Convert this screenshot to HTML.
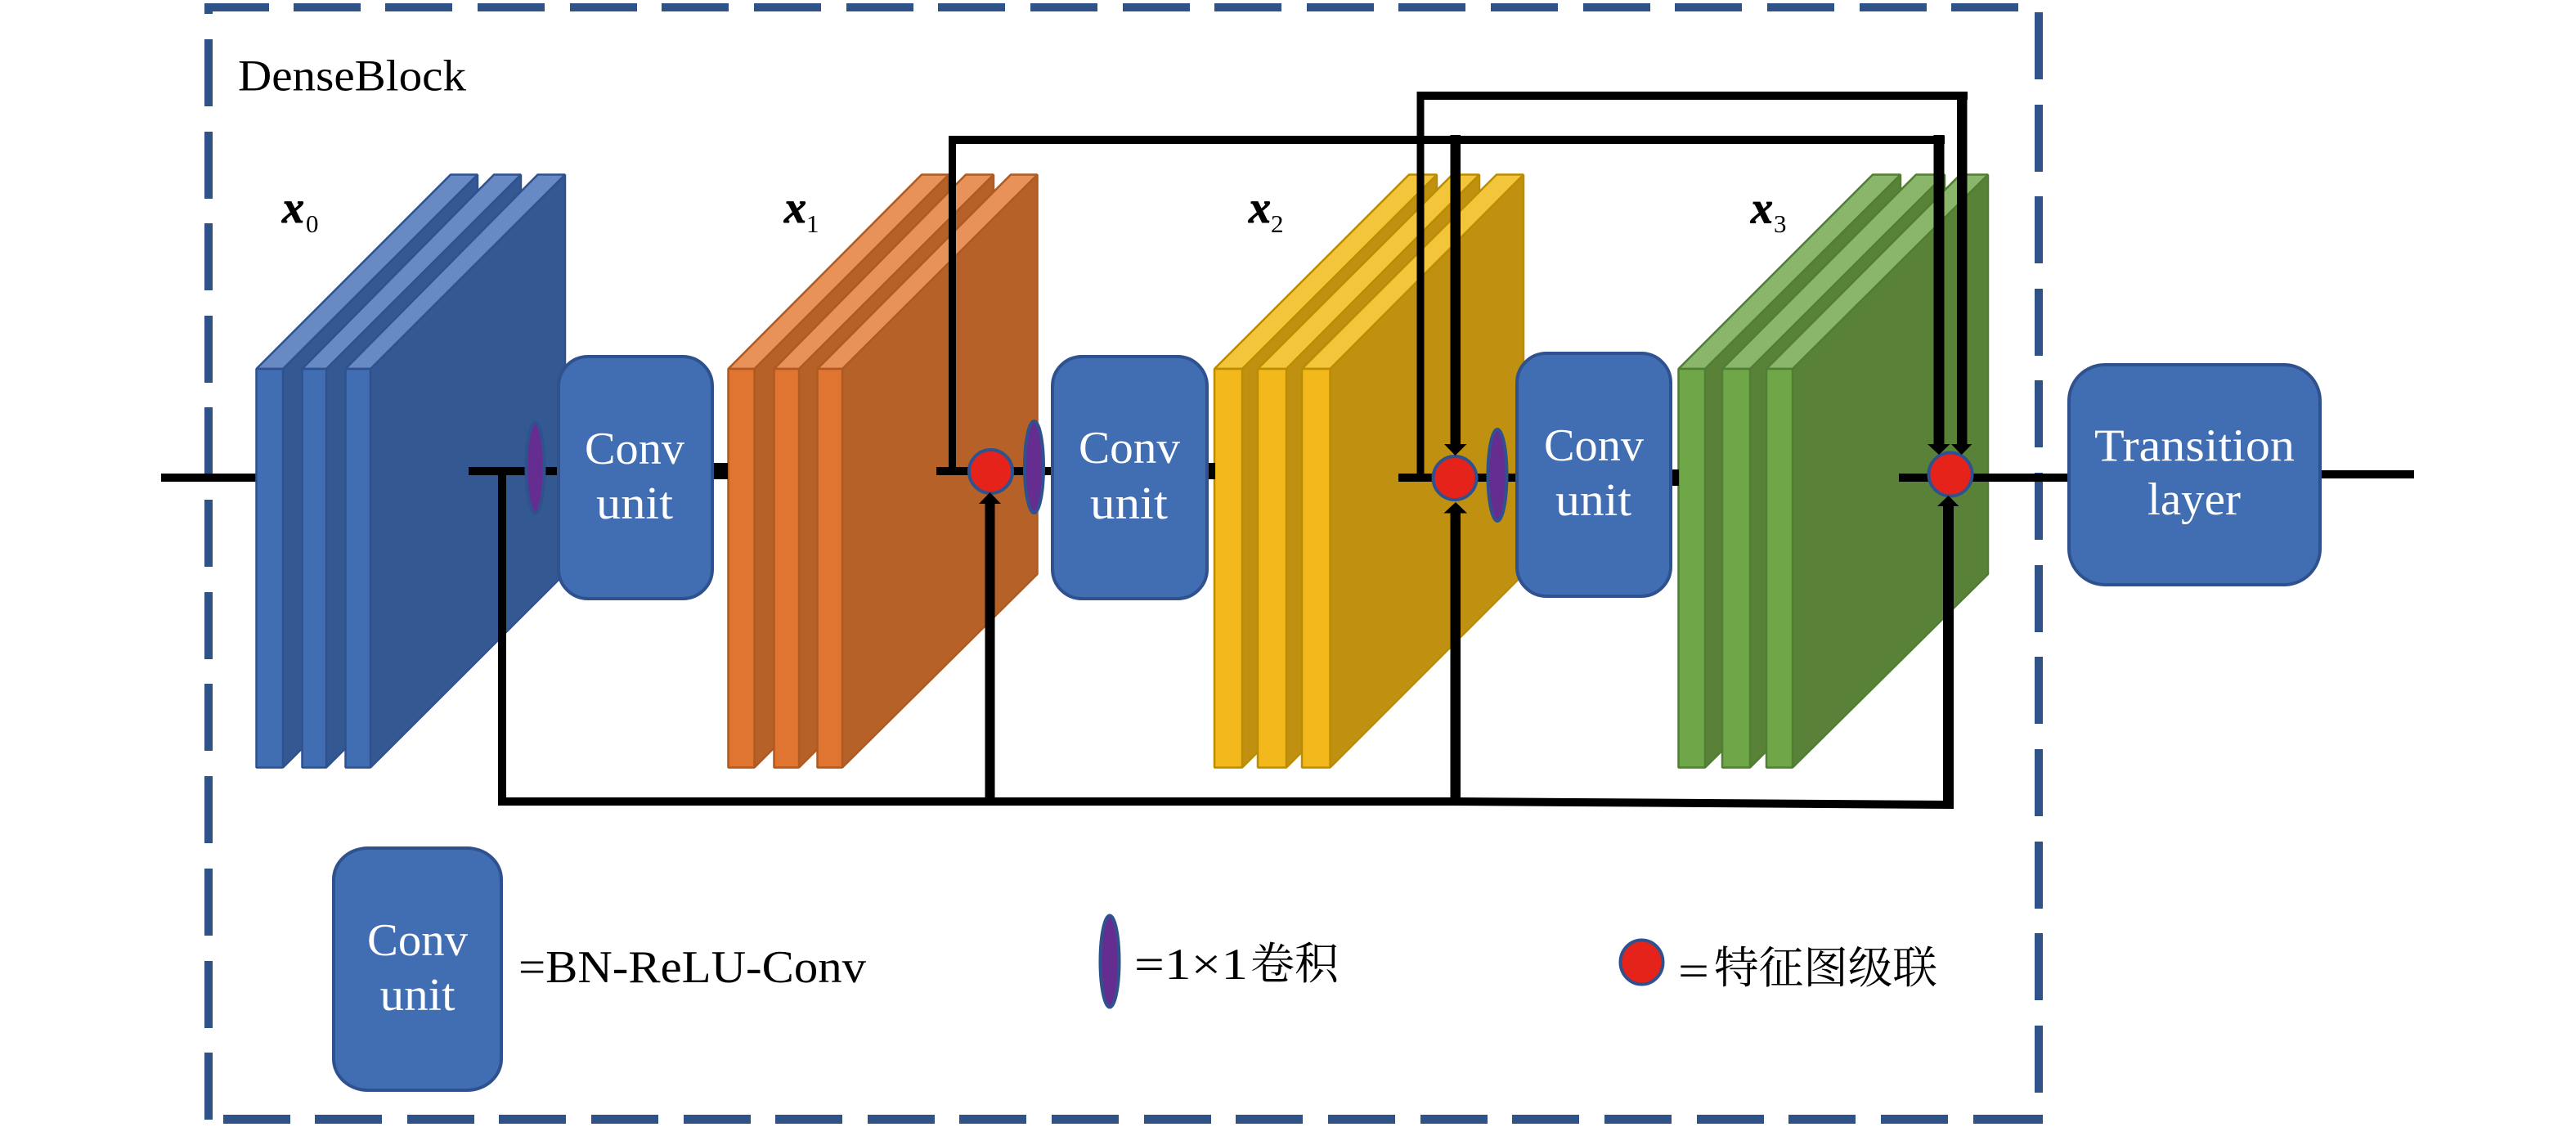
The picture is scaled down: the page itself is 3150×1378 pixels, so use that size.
<!DOCTYPE html>
<html lang="zh">
<head>
<meta charset="utf-8">
<title>DenseBlock</title>
<style>
html,body{margin:0;padding:0;background:#fff}
svg{display:block}
.ser{font-family:"Liberation Serif","Noto Serif CJK SC",serif}
.w{fill:#fff;font-size:56px}
.k{fill:#000;font-size:56px}
.mx{font-family:"Liberation Serif",serif;font-weight:bold;font-style:italic;font-size:55px;fill:#000;stroke:#000;stroke-width:1}
.sb{font-family:"Liberation Serif",serif;font-size:31px;fill:#000}
.dash{fill:#2F5289}
.unit{fill:#416DB2;stroke:#2F528F;stroke-width:4}
.pur{fill:#662D91;stroke:#2F528F;stroke-width:4}
.red{fill:#E5231B;stroke:#2F528F;stroke-width:4}
.bl polygon,.bl rect,.or polygon,.or rect,.ye polygon,.ye rect,.gr polygon,.gr rect{stroke-width:2.5;stroke-linejoin:bevel}
.bl *{stroke:#2F528F}.bl .f{fill:#416DB2}.bl .s{fill:#345892}.bl .t{fill:#678AC4}
.or *{stroke:#AE5A21}.or .f{fill:#E07532}.or .s{fill:#B56127}.or .t{fill:#E89158}
.ye *{stroke:#BC8C00}.ye .f{fill:#F3B81B}.ye .s{fill:#C09110}.ye .t{fill:#F3C53A}
.gr *{stroke:#507E32}.gr .f{fill:#6FA648}.gr .s{fill:#598238}.gr .t{fill:#8AB66C}
</style>
</head>
<body>
<svg xmlns="http://www.w3.org/2000/svg" width="3150" height="1378" viewBox="0 0 3150 1378">
<rect width="3150" height="1378" fill="#fff"/>

<!-- dashed frame: top -->
<g class="dash">
<rect x="250" y="4" width="79" height="10"/><rect x="250" y="4" width="10" height="13"/>
<rect x="359" y="4" width="82" height="10"/><rect x="471" y="4" width="82" height="10"/>
<rect x="584" y="4" width="82" height="10"/><rect x="697" y="4" width="82" height="10"/>
<rect x="809" y="4" width="82" height="10"/><rect x="922" y="4" width="82" height="10"/>
<rect x="1035" y="4" width="82" height="10"/><rect x="1147" y="4" width="82" height="10"/>
<rect x="1260" y="4" width="82" height="10"/><rect x="1373" y="4" width="82" height="10"/>
<rect x="1485" y="4" width="82" height="10"/><rect x="1598" y="4" width="82" height="10"/>
<rect x="1710" y="4" width="82" height="10"/><rect x="1823" y="4" width="82" height="10"/>
<rect x="1936" y="4" width="82" height="10"/><rect x="2048" y="4" width="82" height="10"/>
<rect x="2161" y="4" width="82" height="10"/><rect x="2274" y="4" width="82" height="10"/>
<rect x="2386" y="4" width="82" height="10"/>
<!-- left -->
<rect x="250" y="48" width="10" height="82"/><rect x="250" y="161" width="10" height="82"/>
<rect x="250" y="273" width="10" height="82"/><rect x="250" y="386" width="10" height="82"/>
<rect x="250" y="498" width="10" height="82"/><rect x="250" y="611" width="10" height="82"/>
<rect x="250" y="724" width="10" height="82"/><rect x="250" y="836" width="10" height="82"/>
<rect x="250" y="949" width="10" height="82"/><rect x="250" y="1062" width="10" height="82"/>
<rect x="250" y="1175" width="10" height="82"/><rect x="250" y="1287" width="10" height="82"/>
<!-- right -->
<rect x="2488" y="15" width="10" height="82"/><rect x="2488" y="128" width="10" height="82"/>
<rect x="2488" y="240" width="10" height="82"/><rect x="2488" y="353" width="10" height="82"/>
<rect x="2488" y="465" width="10" height="82"/><rect x="2488" y="578" width="10" height="82"/>
<rect x="2488" y="691" width="10" height="82"/><rect x="2488" y="803" width="10" height="82"/>
<rect x="2488" y="916" width="10" height="82"/><rect x="2488" y="1029" width="10" height="82"/>
<rect x="2488" y="1141" width="10" height="82"/><rect x="2488" y="1254" width="10" height="82"/>
<!-- bottom -->
<rect x="273" y="1363" width="82" height="11"/><rect x="385" y="1363" width="82" height="11"/>
<rect x="498" y="1363" width="82" height="11"/><rect x="610" y="1363" width="82" height="11"/>
<rect x="723" y="1363" width="82" height="11"/><rect x="836" y="1363" width="82" height="11"/>
<rect x="948" y="1363" width="82" height="11"/><rect x="1061" y="1363" width="82" height="11"/>
<rect x="1173" y="1363" width="82" height="11"/><rect x="1286" y="1363" width="82" height="11"/>
<rect x="1399" y="1363" width="82" height="11"/><rect x="1511" y="1363" width="82" height="11"/>
<rect x="1624" y="1363" width="82" height="11"/><rect x="1737" y="1363" width="82" height="11"/>
<rect x="1849" y="1363" width="82" height="11"/><rect x="1962" y="1363" width="82" height="11"/>
<rect x="2075" y="1363" width="82" height="11"/><rect x="2187" y="1363" width="82" height="11"/>
<rect x="2300" y="1363" width="82" height="11"/><rect x="2413" y="1363" width="85" height="11"/>
</g>

<!-- input / output plain wires -->
<g fill="#000">
<rect x="197" y="579" width="117" height="10"/>
<rect x="2838" y="575" width="114" height="10"/>
</g>

<!-- blue block -->
<g class="bl">
<polygon class="s" points="346,451 584,213.5 584,701 346,938.5"/><polygon class="t" points="313.5,451 551,213.5 584,213.5 346,451"/><rect class="f" x="313.5" y="451" width="32.5" height="487.5"/>
<polygon class="s" points="399,451 637,213.5 637,701 399,938.5"/><polygon class="t" points="369.5,451 604,213.5 637,213.5 399,451"/><rect class="f" x="369.5" y="451" width="29.5" height="487.5"/>
<polygon class="s" points="453,451 691,213.5 691,701 453,938.5"/><polygon class="t" points="422.5,451 657.5,213.5 691,213.5 453,451"/><rect class="f" x="422.5" y="451" width="30.5" height="487.5"/>
</g>
<!-- orange block -->
<g class="or">
<polygon class="s" points="922.5,451 1160,213.5 1160,701 922.5,938.5"/><polygon class="t" points="890.5,451 1127,213.5 1160,213.5 922.5,451"/><rect class="f" x="890.5" y="451" width="32" height="487.5"/>
<polygon class="s" points="977,451 1215,213.5 1215,701 977,938.5"/><polygon class="t" points="946.5,451 1181,213.5 1215,213.5 977,451"/><rect class="f" x="946.5" y="451" width="30.5" height="487.5"/>
<polygon class="s" points="1030,451 1268.5,213.5 1268.5,702 1030,938.5"/><polygon class="t" points="999.5,451 1236,213.5 1268.5,213.5 1030,451"/><rect class="f" x="999.5" y="451" width="30.5" height="487.5"/>
</g>
<!-- yellow block -->
<g class="ye">
<polygon class="s" points="1519,451 1757,213.5 1757,701 1519,938.5"/><polygon class="t" points="1485,451 1723,213.5 1757,213.5 1519,451"/><rect class="f" x="1485" y="451" width="34" height="487.5"/>
<polygon class="s" points="1573,451 1809,213.5 1809,701 1573,938.5"/><polygon class="t" points="1538,451 1776,213.5 1809,213.5 1573,451"/><rect class="f" x="1538" y="451" width="35" height="487.5"/>
<polygon class="s" points="1626.5,451 1863,213.5 1863,702 1626.5,938.5"/><polygon class="t" points="1592,451 1830,213.5 1863,213.5 1626.5,451"/><rect class="f" x="1592" y="451" width="34.5" height="487.5"/>
</g>
<!-- green block -->
<g class="gr">
<polygon class="s" points="2085,451 2324,213.5 2324,701 2085,938.5"/><polygon class="t" points="2052.5,451 2290,213.5 2324,213.5 2085,451"/><rect class="f" x="2052.5" y="451" width="32.5" height="487.5"/>
<polygon class="s" points="2140,451 2378,213.5 2378,701 2140,938.5"/><polygon class="t" points="2106,451 2343,213.5 2378,213.5 2140,451"/><rect class="f" x="2106" y="451" width="34" height="487.5"/>
<polygon class="s" points="2192,451 2431,213.5 2431,702 2192,938.5"/><polygon class="t" points="2160,451 2397,213.5 2431,213.5 2192,451"/><rect class="f" x="2160" y="451" width="32" height="487.5"/>
</g>

<!-- horizontal wires through nodes -->
<g fill="#000">
<rect x="573" y="571" width="112" height="10"/>
<rect x="872" y="566" width="18" height="20"/>
<rect x="1145" y="571" width="142" height="10"/>
<rect x="1476" y="566" width="10" height="20"/>
<rect x="1710" y="579" width="146" height="10"/>
<rect x="2043" y="574" width="10" height="20"/>
<rect x="2322" y="579" width="208" height="10"/>
</g>

<!-- 1x1 conv ellipses -->
<ellipse class="pur" cx="654.5" cy="572" rx="11" ry="55.5"/>
<ellipse class="pur" cx="1264.5" cy="571" rx="11.5" ry="56"/>
<ellipse class="pur" cx="1831" cy="581" rx="11.5" ry="56"/>

<!-- concat circles -->
<ellipse class="red" cx="1211.5" cy="576.5" rx="26.5" ry="26.5"/>
<ellipse class="red" cx="1779" cy="584.5" rx="26.5" ry="26.5"/>
<ellipse class="red" cx="2385" cy="580" rx="26.5" ry="26.5"/>

<!-- skip connections (arrowheads sit on top of the circles) -->
<g fill="#000">
<rect x="609" y="576" width="10" height="409"/>
<polygon points="609,975 1780,975 2389,979 2389,989 1775,985 609,985"/>
<rect x="1204.5" y="612" width="12" height="370"/>
<polygon points="1210.5,602 1224,616 1197,616"/>
<rect x="1773.5" y="625" width="12.5" height="358"/>
<polygon points="1780,614 1794,627.5 1765.5,627.5"/>
<rect x="2376" y="616" width="13" height="372"/>
<polygon points="2382.5,606 2395.5,619 2369,619"/>

<rect x="1160" y="166" width="1218" height="10"/>
<rect x="1160" y="166" width="9" height="410"/>
<rect x="1732.5" y="112" width="9" height="472"/>
<rect x="1732.5" y="112" width="673.5" height="10"/>

<rect x="1773.5" y="165" width="12.5" height="380"/>
<polygon points="1766,543 1793.5,543 1779.5,557"/>
<rect x="2364.5" y="165" width="13" height="380"/>
<polygon points="2357,543 2384.5,543 2371,556"/>
<rect x="2393" y="112" width="12.5" height="433"/>
<polygon points="2386,543 2411.5,543 2398.7,556"/>
</g>

<!-- conv units -->
<rect class="unit" x="683" y="436" width="188" height="296" rx="36" ry="36"/>
<rect class="unit" x="1287" y="436" width="189" height="296" rx="36" ry="36"/>
<rect class="unit" x="1855" y="432" width="188" height="297" rx="36" ry="36"/>
<rect class="unit" x="2530" y="446" width="307" height="269" rx="44" ry="44"/>
<rect class="unit" x="408" y="1037" width="205" height="296" rx="42" ry="38"/>

<!-- legend symbols -->
<ellipse class="pur" cx="1357" cy="1175.5" rx="11.5" ry="56" stroke-width="3"/>
<ellipse class="red" cx="2007.5" cy="1176.5" rx="26" ry="27"/>

<!-- text -->
<text class="ser k" x="291" y="110.5" textLength="279" lengthAdjust="spacingAndGlyphs" style="font-size:54px">DenseBlock</text>

<text class="mx" x="345" y="272" textLength="27" lengthAdjust="spacingAndGlyphs">x</text><text class="sb" x="374" y="284">0</text>
<text class="mx" x="959" y="272" textLength="27" lengthAdjust="spacingAndGlyphs">x</text><text class="sb" x="986" y="284">1</text>
<text class="mx" x="1527" y="272" textLength="27" lengthAdjust="spacingAndGlyphs">x</text><text class="sb" x="1554" y="284">2</text>
<text class="mx" x="2141" y="272.5" textLength="27" lengthAdjust="spacingAndGlyphs">x</text><text class="sb" x="2169" y="284">3</text>

<text class="ser w" x="715" y="567" textLength="122" lengthAdjust="spacingAndGlyphs">Conv</text>
<text class="ser w" x="729" y="634" textLength="94" lengthAdjust="spacingAndGlyphs">unit</text>
<text class="ser w" x="1319" y="566" textLength="124" lengthAdjust="spacingAndGlyphs">Conv</text>
<text class="ser w" x="1333" y="634" textLength="95" lengthAdjust="spacingAndGlyphs">unit</text>
<text class="ser w" x="1888" y="563" textLength="122" lengthAdjust="spacingAndGlyphs">Conv</text>
<text class="ser w" x="1902" y="630" textLength="93" lengthAdjust="spacingAndGlyphs">unit</text>
<text class="ser w" x="2561" y="563.5" textLength="245" lengthAdjust="spacingAndGlyphs">Transition</text>
<text class="ser w" x="2626" y="629" textLength="114" lengthAdjust="spacingAndGlyphs">layer</text>
<text class="ser w" x="449" y="1168" textLength="123" lengthAdjust="spacingAndGlyphs">Conv</text>
<text class="ser w" x="464.5" y="1235" textLength="92" lengthAdjust="spacingAndGlyphs">unit</text>

<text class="ser k" x="634" y="1201" textLength="425" lengthAdjust="spacingAndGlyphs">=BN-ReLU-Conv</text>
<text class="ser k" x="1387" y="1197" textLength="139" lengthAdjust="spacingAndGlyphs" style="font-size:54px">=1×1</text>
<text class="ser k" x="1529" y="1197" textLength="108" lengthAdjust="spacingAndGlyphs" style="font-size:54px">卷积</text>
<text class="ser k" x="2052" y="1205" textLength="38" lengthAdjust="spacingAndGlyphs" style="font-size:54px">=</text>
<text class="ser k" x="2096" y="1202" textLength="273" lengthAdjust="spacingAndGlyphs" style="font-size:54px">特征图级联</text>
</svg>
</body>
</html>
